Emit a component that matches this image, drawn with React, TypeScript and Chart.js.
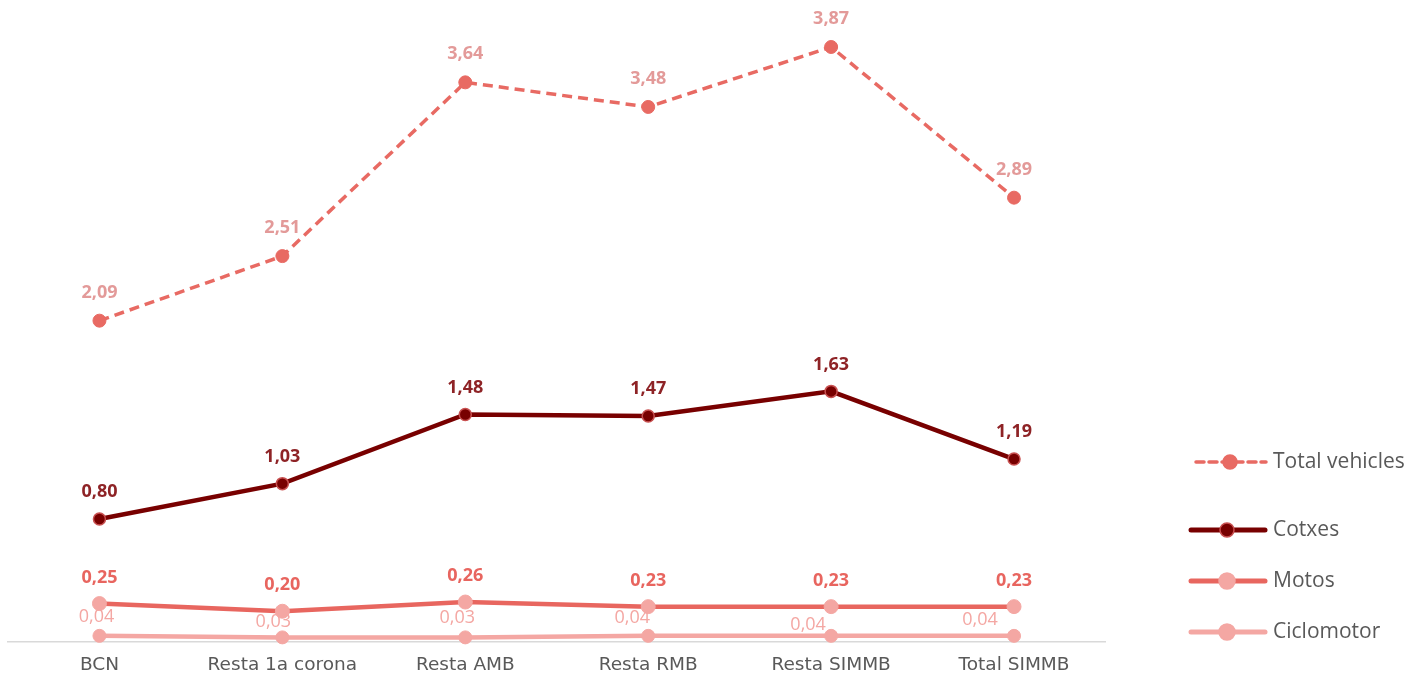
import React, { useEffect, useRef } from "react";
import { Chart, registerables } from "chart.js";

Chart.register(...registerables);

const categories = ["BCN", "Resta 1a corona", "Resta AMB", "Resta RMB", "Resta SIMMB", "Total SIMMB"];
const totalVehicles = [2.09, 2.51, 3.64, 3.48, 3.87, 2.89];
const cotxes = [0.8, 1.03, 1.48, 1.47, 1.63, 1.19];
const motos = [0.25, 0.2, 0.26, 0.23, 0.23, 0.23];
const ciclomotor = [0.04, 0.03, 0.03, 0.04, 0.04, 0.04];

const FONT = "'Open Sans', Lato, sans-serif";
const TICK_FONT = "'DejaVu Sans', Verdana, sans-serif";

// label placement style per series (pixel nudges of the text relative to its point)
const labelStyles = [
  { color: "#E39A99", weight: "bold", dx: [0, 0, 0, 0, 0, 0], dy: [-28, -28, -28, -28, -28, -28] },
  { color: "#8E2326", weight: "bold", dx: [0, 0, 0, 0, 0, 0], dy: [-27, -27, -27, -27, -27, -27] },
  { color: "#E8655F", weight: "bold", dx: [0, 0, 0, 0, 0, 0], dy: [-26, -26, -26, -26, -26, -26] },
  { color: "#F4A7A3", weight: "normal", dx: [-3, -9, -8, -16, -23, -34], dy: [-19, -16, -20, -18, -11, -16] },
];

const fmt = (v: number) => v.toFixed(2).replace(".", ",");

const dataLabelPlugin = {
  id: "dataLabels",
  afterDatasetsDraw(chart: any) {
    const ctx = chart.ctx;
    ctx.save();
    chart.data.datasets.forEach((ds: any, i: number) => {
      const meta = chart.getDatasetMeta(i);
      const st = labelStyles[i];
      ctx.fillStyle = st.color;
      ctx.font = `${st.weight} 18px ${FONT}`;
      ctx.textAlign = "center";
      ctx.textBaseline = "middle";
      meta.data.forEach((pt: any, j: number) => {
        ctx.fillText(fmt(ds.data[j]), pt.x + st.dx[j], pt.y + st.dy[j]);
      });
    });
    ctx.restore();
  },
};

const legendItems = [
  { label: "Total vehicles", y: 462, x1: 1196, x2: 1266, mx: 1230, line: "#E86A63", fill: "#E86A63", border: "#E86A63", dash: [8, 5], width: 3.5, r: 7 },
  { label: "Cotxes", y: 530, x1: 1191, x2: 1265, mx: 1227, line: "#780000", fill: "#780000", border: "#C85050", dash: [], width: 5, r: 7 },
  { label: "Motos", y: 581, x1: 1191, x2: 1265, mx: 1227, line: "#E8665F", fill: "#F4A7A3", border: "#F4A7A3", dash: [], width: 5, r: 8 },
  { label: "Ciclomotor", y: 632, x1: 1191, x2: 1265, mx: 1227, line: "#F4A7A3", fill: "#F4A7A3", border: "#F4A7A3", dash: [], width: 5, r: 8 },
];

const legendPlugin = {
  id: "customLegend",
  afterDraw(chart: any) {
    const ctx = chart.ctx;
    ctx.save();
    legendItems.forEach((it) => {
      ctx.strokeStyle = it.line;
      ctx.lineWidth = it.width;
      ctx.lineCap = "round";
      ctx.setLineDash(it.dash);
      ctx.beginPath();
      ctx.moveTo(it.x1, it.y);
      ctx.lineTo(it.x2, it.y);
      ctx.stroke();
      ctx.setLineDash([]);
      ctx.fillStyle = it.fill;
      ctx.strokeStyle = it.border;
      ctx.lineWidth = 1.5;
      ctx.beginPath();
      ctx.arc(it.mx, it.y, it.r, 0, Math.PI * 2);
      ctx.fill();
      ctx.stroke();
      ctx.fillStyle = "#595959";
      ctx.font = `21px ${FONT}`;
      ctx.textAlign = "left";
      ctx.textBaseline = "middle";
      ctx.fillText(it.label, 1273, it.y);
    });
    ctx.restore();
  },
};

export default function App() {
  const ref = useRef<HTMLCanvasElement>(null);
  useEffect(() => {
    if (!ref.current) return;
    const chart = new Chart(ref.current, {
      type: "line",
      data: {
        labels: categories,
        datasets: [
          {
            label: "Total vehicles",
            data: totalVehicles,
            borderColor: "#E86A63",
            backgroundColor: "#E86A63",
            borderWidth: 3.5,
            borderDash: [10, 6],
            pointRadius: 6.5,
            pointBackgroundColor: "#E86A63",
            pointBorderColor: "#E86A63",
            pointBorderWidth: 1,
            tension: 0,
          },
          {
            label: "Cotxes",
            data: cotxes,
            borderColor: "#780000",
            backgroundColor: "#780000",
            borderWidth: 4.5,
            pointRadius: 6,
            pointBackgroundColor: "#780000",
            pointBorderColor: "#C85050",
            pointBorderWidth: 1.5,
            tension: 0,
          },
          {
            label: "Motos",
            data: motos,
            borderColor: "#E8665F",
            backgroundColor: "#F4A7A3",
            borderWidth: 4.5,
            pointRadius: 7,
            pointBackgroundColor: "#F4A7A3",
            pointBorderColor: "#F4A7A3",
            pointBorderWidth: 1,
            tension: 0,
          },
          {
            label: "Ciclomotor",
            data: ciclomotor,
            borderColor: "#F4A7A3",
            backgroundColor: "#F4A7A3",
            borderWidth: 4.5,
            pointRadius: 6.5,
            pointBackgroundColor: "#F4A7A3",
            pointBorderColor: "#F4A7A3",
            pointBorderWidth: 1,
            tension: 0,
          },
        ],
      },
      options: {
        responsive: false,
        animation: false,
        clip: false as any,
        layout: { padding: { left: 7.5, right: 300.5, top: 27, bottom: 0 } },
        plugins: {
          legend: { display: false },
          tooltip: { enabled: false },
          title: { display: false },
        },
        scales: {
          x: {
            offset: true,
            grid: { display: false, drawTicks: false, offset: true },
            border: { display: true, color: "#D9D9D9", width: 1.5 },
            ticks: { color: "#595959", font: { family: TICK_FONT, size: 18.5 }, padding: 12, maxRotation: 0 },
            afterFit(scale: any) {
              scale.height = 34;
            },
          },
          y: {
            display: false,
            min: 0,
            max: 4,
          },
        },
      },
      plugins: [dataLabelPlugin, legendPlugin],
    });
    return () => chart.destroy();
  }, []);
  return (
    <div style={{ position: "fixed", left: 0, top: 0, width: 1406, height: 676, background: "#fff" }}>
      <canvas ref={ref} width={1406} height={676} style={{ width: 1406, height: 676 }} />
    </div>
  );
}
